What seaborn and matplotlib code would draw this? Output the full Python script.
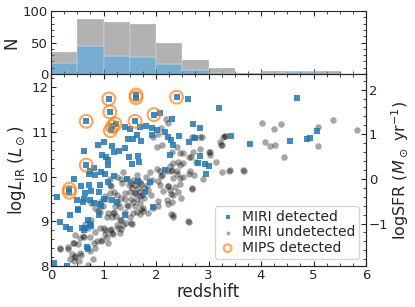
import numpy as np
import pandas as pd
import seaborn as sns
import matplotlib
matplotlib.use('Agg')
import matplotlib.pyplot as plt
from matplotlib.ticker import AutoMinorLocator

# redshift histogram (bins of 0.5)
bin_left = [0.0, 0.5, 1.0, 1.5, 2.0, 2.5, 3.0, 3.5, 4.0, 4.5, 5.0, 5.5]
n_all = [35, 88, 82, 80, 50, 22, 10, 2, 5, 4, 4, 0]
n_miri = [17, 45, 28, 27, 16, 7, 2, 0, 2, 3, 0, 0]

# MIRI detected (redshift, logLIR)
miri_z = [1.10, 1.62, 1.62, 2.39, 2.60, 3.20, 1.12, 0.67, 1.60, 1.97, 2.08, 2.31, 2.71, 2.84, 3.43,
          1.23, 1.16, 1.14, 1.41, 1.51, 1.70, 1.80, 1.92, 2.01, 2.17, 1.93, 2.22, 2.29, 2.33, 2.44,
          2.63, 2.74, 2.83, 2.93, 3.00, 2.95, 2.17, 0.89, 1.00, 1.16, 1.29, 1.41, 1.47, 1.57, 1.64,
          1.71, 0.62, 0.97, 1.04, 1.20, 1.09, 1.49, 1.54, 1.65, 1.68, 0.67, 0.74, 0.81, 0.73, 0.84,
          0.95, 1.09, 1.03, 1.09, 1.20, 0.43, 0.57, 0.73, 0.77, 0.92, 0.93, 0.65, 0.62, 0.12, 0.35,
          0.35, 0.49, 0.60, 0.74, 0.81, 0.93, 1.00, 1.16, 1.25, 1.79, 1.95, 0.51, 0.37, 0.17, 0.29,
          0.36, 0.59, 4.68, 3.79, 4.55, 4.87, 4.93, 5.07, 0.06, 0.30, 0.68, 0.71, 0.74, 0.77, 0.71,
          0.62, 0.65, 0.96, 0.92, 1.41, 0.52, 2.26, 2.79, 1.44, 1.66, 1.88]
miri_L = [11.74, 11.83, 11.77, 11.78, 11.74, 11.54, 11.45, 11.24, 11.24, 11.39, 11.42, 11.30, 11.17, 11.10, 10.92,
          11.18, 11.14, 11.04, 11.11, 11.07, 11.12, 11.14, 11.10, 11.04, 10.99, 10.93, 10.88, 10.82, 10.71, 10.90,
          10.78, 10.86, 10.47, 10.29, 10.25, 10.06, 10.15, 10.72, 10.77, 10.69, 10.57, 10.65, 10.84, 10.84, 10.93,
          10.80, 10.57, 10.48, 10.45, 10.56, 10.37, 10.45, 10.28, 10.46, 10.32, 10.26, 10.13, 10.19, 10.07, 10.04,
          10.10, 10.26, 10.05, 9.87, 10.02, 9.95, 9.80, 9.81, 9.68, 9.66, 9.81, 9.63, 9.51, 9.55, 9.72,
          9.65, 9.48, 9.44, 9.48, 9.40, 9.38, 9.51, 9.48, 9.44, 9.66, 9.33, 9.25, 9.14, 8.99, 8.88,
          8.83, 8.86, 11.77, 10.73, 10.80, 10.84, 10.87, 11.02, 8.07, 8.01, 8.42, 8.37, 8.95, 8.89, 9.04,
          8.80, 8.86, 9.34, 9.14, 9.14, 9.27, 10.48, 10.30, 9.94, 9.90, 9.88]

# MIRI undetected (redshift, logLIR)
undet_z = [1.95, 2.04, 2.19, 2.22, 2.09, 2.01, 2.11, 2.30, 2.39, 2.52, 2.63, 2.71, 2.68, 2.87, 3.22,
           3.27, 3.31, 3.03, 3.14, 2.46, 2.33, 2.30, 2.39, 2.52, 2.62, 2.73, 2.68, 2.32, 2.20, 2.33,
           1.82, 1.92, 2.08, 2.11, 2.01, 1.89, 1.81, 1.70, 1.63, 1.57, 1.49, 1.50, 1.60, 1.70, 1.38,
           1.26, 1.35, 1.12, 1.20, 1.26, 1.41, 1.44, 1.31, 1.57, 1.70, 1.76, 1.63, 1.50, 1.41, 1.19,
           1.16, 1.31, 1.06, 0.93, 1.25, 1.38, 1.00, 1.12, 3.25, 3.41, 1.60, 1.66, 1.73, 1.63, 1.54,
           2.62, 2.32, 2.04, 1.54, 1.03, 1.16, 1.31, 0.97, 1.06, 0.81, 0.87, 0.46, 0.55, 0.62, 0.17,
           0.33, 0.43, 0.36, 0.46, 0.58, 0.55, 0.71, 0.43, 0.54,
           0.77, 0.83, 0.90, 0.99, 1.05, 1.12, 1.02, 0.96, 1.09, 0.77, 0.64, 0.70, 0.61, 0.74, 0.83,
           0.93, 1.02, 0.96, 1.09, 0.51, 0.42, 0.32, 0.39, 0.45, 0.74, 0.83, 0.17, 0.80,
           1.34, 1.45, 1.53, 1.63, 1.72, 1.77, 1.85, 1.59, 1.69, 1.78, 1.91, 2.04, 2.10, 2.20, 2.23,
           2.26, 2.13, 2.04, 1.94, 1.85, 1.72, 1.59, 1.53, 1.47, 1.40, 1.34, 1.28, 1.21, 1.18, 1.24,
           1.34, 1.43, 1.56, 1.69, 1.75, 1.53, 1.15, 1.18, 1.28, 1.34, 1.12, 1.14, 2.07, 2.29, 2.23,
           2.32, 2.45, 2.23, 2.36, 2.45, 2.29, 2.42, 2.48, 2.69, 2.30, 2.61, 2.90,
           2.72, 2.84, 3.24, 2.83, 2.45, 3.01, 2.67, 2.42, 2.51, 2.77, 2.26, 2.29, 2.40, 2.64, 3.39, 3.68,
           4.01, 4.25, 4.38, 4.08, 4.17, 4.26, 4.43, 5.08, 5.08, 5.37, 5.82, 3.66, 3.25, 3.31, 3.02]
undet_L = [10.89, 10.95, 11.30, 11.21, 11.08, 10.66, 10.71, 10.56, 10.67, 10.52, 10.45, 10.56, 10.89, 10.89, 10.78,
           10.89, 10.92, 10.48, 10.33, 10.26, 10.30, 10.15, 10.07, 10.00, 10.07, 10.04, 9.74, 9.59, 9.48, 9.14,
           9.81, 9.92, 9.81, 10.04, 10.17, 10.10, 10.00, 9.89, 10.04, 9.92, 9.81, 9.66, 9.63, 9.66, 10.11,
           10.00, 9.85, 9.81, 9.66, 9.59, 9.51, 9.37, 9.33, 9.44, 9.40, 9.29, 9.22, 9.10, 9.22, 9.22,
           9.10, 9.03, 9.10, 9.22, 8.92, 8.92, 8.84, 8.81, 10.10, 10.14, 9.81, 9.74, 9.59, 9.51, 9.74,
           8.99, 9.10, 9.34, 8.94, 8.80, 8.73, 8.73, 8.58, 8.66, 8.52, 8.57, 8.69, 8.62, 8.64, 8.39,
           8.43, 8.51, 8.15, 8.21, 8.24, 8.28, 8.02, 8.12, 8.12,
           9.42, 9.30, 9.23, 9.34, 9.49, 9.64, 9.57, 9.46, 9.19, 9.04, 8.93, 8.86, 8.67, 8.64, 8.75,
           8.86, 8.71, 8.56, 8.52, 8.49, 8.52, 8.37, 8.26, 8.22, 8.34, 8.41, 8.41, 8.15,
           9.94, 9.95, 9.86, 9.90, 9.83, 9.75, 9.71, 9.64, 9.57, 9.53, 9.60, 9.90, 10.01, 10.13, 9.79,
           9.71, 9.68, 9.45, 9.30, 9.19, 9.27, 9.34, 9.49, 9.34, 9.64, 9.53, 9.42, 9.34, 9.19, 9.12,
           9.04, 8.97, 9.19, 9.16, 9.23, 8.97, 8.82, 8.71, 8.86, 8.82, 9.94, 9.79, 10.13, 9.16, 9.38,
           9.98, 9.98, 9.80, 9.76, 9.83, 9.61, 9.65, 9.52, 9.72, 9.43, 9.00, 9.95,
           10.88, 10.89, 10.71, 10.62, 10.54, 10.55, 10.45, 10.34, 10.30, 10.34, 10.25, 10.13, 10.12, 10.12, 10.13, 10.13,
           11.21, 11.07, 11.18, 10.78, 10.69, 10.72, 10.43, 11.11, 10.69, 11.27, 11.04, 10.14, 10.72, 10.91, 10.56]

# MIPS detected (redshift, logLIR)
mips_z = [1.10, 1.62, 1.62, 2.39, 1.12, 0.67, 1.22, 1.17, 1.13, 1.60, 1.96, 0.67, 0.35, 0.35]
mips_L = [11.74, 11.83, 11.77, 11.78, 11.45, 11.24, 11.18, 11.12, 11.03, 11.24, 11.39, 10.26, 9.72, 9.65]

sfr_offset = 9.95

sns.set_style('ticks')
plt.rcParams['font.family'] = ['DejaVu Sans']
plt.rcParams['xtick.direction'] = 'in'
plt.rcParams['ytick.direction'] = 'in'

fig = plt.figure(figsize=(4.15, 3.07), dpi=100)
ax_h = fig.add_axes([0.123, 0.759, 0.759, 0.205])
ax = fig.add_axes([0.123, 0.1336, 0.759, 0.6254])

#Histogram - stacked, detected at the bottom
n_rest = [a - b for a, b in zip(n_all, n_miri)]
ax_h.bar(bin_left, n_miri, width=0.5, align='edge', color='tab:blue', alpha=0.6,
         edgecolor='white', linewidth=0.3)
ax_h.bar(bin_left, n_rest, width=0.5, align='edge', bottom=n_miri, color='gray', alpha=0.6,
         edgecolor='white', linewidth=0.3)
ax_h.set_xlim(0, 6)
ax_h.set_ylim(0, 100)
ax_h.set_yticks([0, 50, 100])
ax_h.set_ylabel('N', fontsize=12, labelpad=2)
ax_h.tick_params(labelbottom=False, top=True, right=True, which='both', labelsize=9.5, pad=2)
ax_h.xaxis.set_minor_locator(AutoMinorLocator(4))
ax_h.yaxis.set_minor_locator(AutoMinorLocator(5))

#Scatter
det_df = pd.DataFrame({'z': miri_z, 'L': miri_L})
und_df = pd.DataFrame({'z': undet_z, 'L': undet_L})
mips_df = pd.DataFrame({'z': mips_z, 'L': mips_L})

sns.scatterplot(data=det_df, x='z', y='L', marker='s', color='tab:blue', s=20, alpha=0.85,
                linewidth=0, ax=ax, label='MIRI detected', zorder=3)
sns.scatterplot(data=und_df, x='z', y='L', marker='o', color='black', s=22, alpha=0.35,
                linewidth=0, ax=ax, label='MIRI undetected', zorder=2)
sns.scatterplot(data=mips_df, x='z', y='L', marker='o', facecolors='none', edgecolor='tab:orange',
                s=85, alpha=0.7, linewidth=1.5, ax=ax, label='MIPS detected', zorder=4)

ax.set_xlim(0, 6)
ax.set_ylim(8, 12.3)
ax.set_xlabel('redshift', fontsize=12, labelpad=1)
ax.set_ylabel(r'log$L_{\rm IR}$ ($L_\odot$)', fontsize=12, labelpad=2)
ax.set_yticks([8, 9, 10, 11, 12])
ax.xaxis.set_minor_locator(AutoMinorLocator(4))
ax.yaxis.set_minor_locator(AutoMinorLocator(5))
ax.tick_params(top=True, which='both', labelsize=9.5, pad=2)

ax2 = ax.twinx()
ax2.set_ylim(8 - sfr_offset, 12.3 - sfr_offset)
ax2.set_yticks([-1, 0, 1, 2])
ax2.yaxis.set_minor_locator(AutoMinorLocator(5))
ax2.tick_params(which='both', direction='in', labelsize=9.5, pad=2)
ax2.set_ylabel(r'logSFR ($M_\odot$ yr$^{-1}$)', fontsize=11.5, labelpad=1)

ax.legend(loc='lower right', fontsize=10, markerscale=0.6, handletextpad=0.4,
          labelspacing=0.1, borderpad=0.3, handlelength=1.2, framealpha=0.8)

plt.savefig('out.png', dpi=100)
